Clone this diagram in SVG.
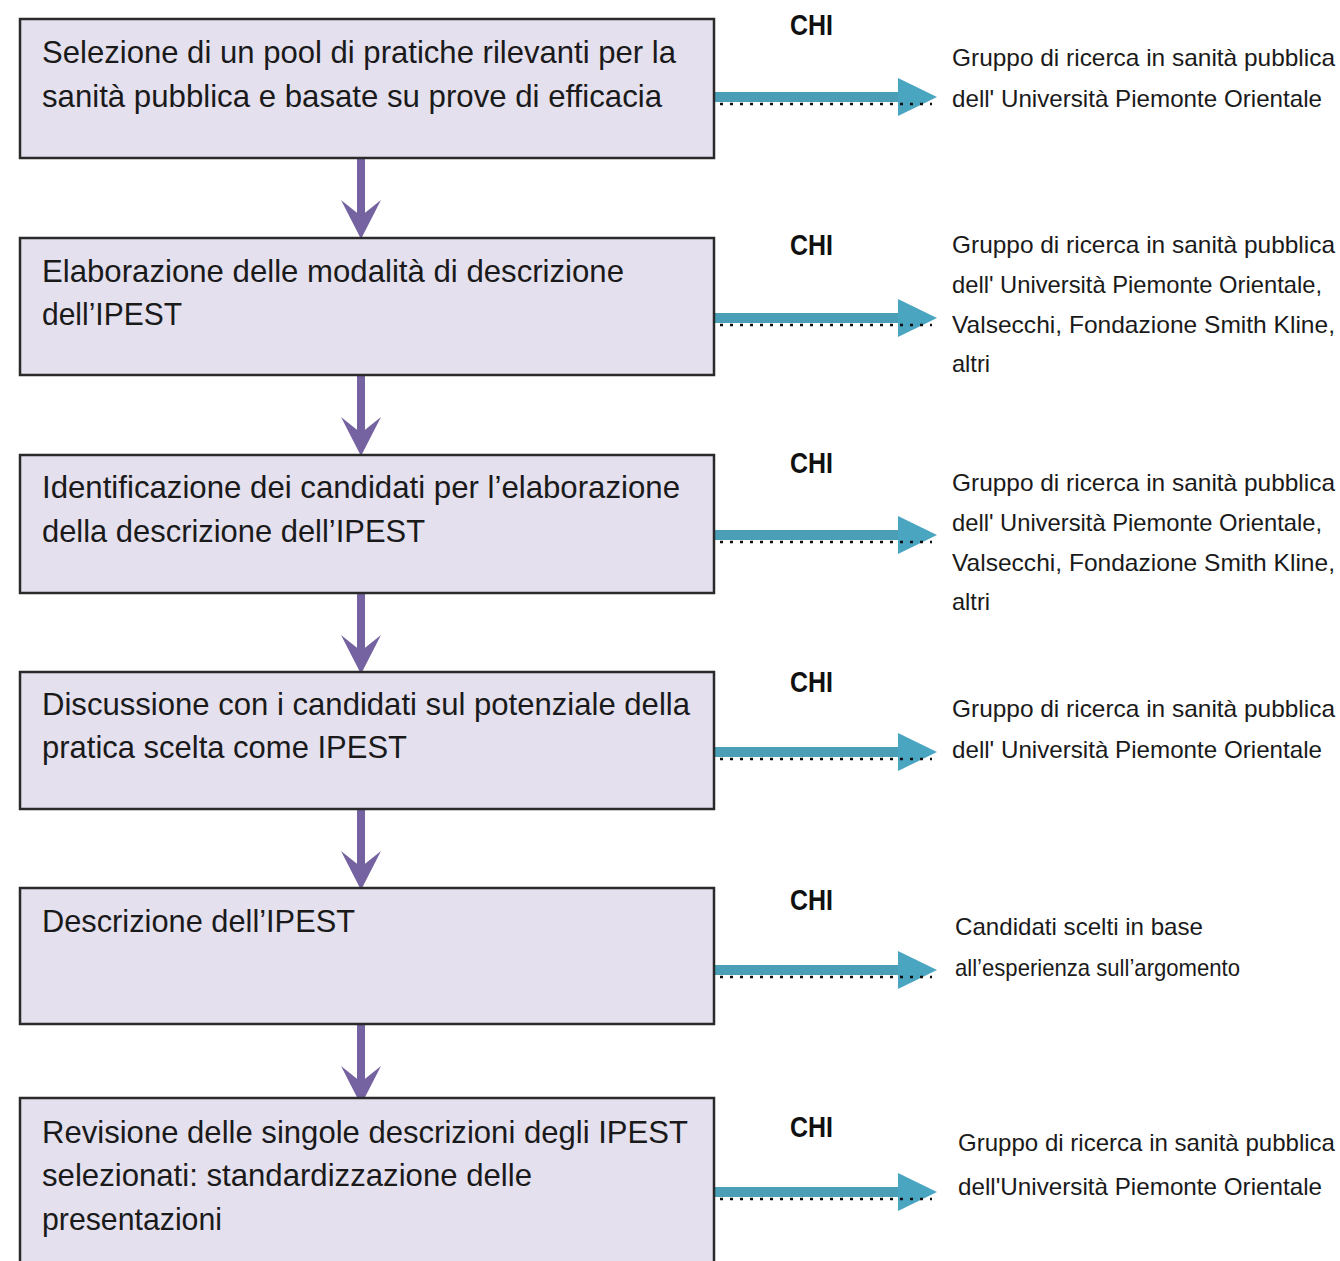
<svg xmlns="http://www.w3.org/2000/svg" width="1340" height="1261" viewBox="0 0 1340 1261">
<style>
.box{fill:#e4e0ee;stroke:#2a2a2a;stroke-width:2.5}
.bt{font-family:"Liberation Sans",Arial,sans-serif;font-size:32px;fill:#1a1a1a}
.chi{font-family:"Liberation Sans",Arial,sans-serif;font-size:29px;font-weight:bold;fill:#111}
.rt{font-family:"Liberation Sans",Arial,sans-serif;font-size:24px;fill:#1a1a1a}
.pshaft{stroke:#7562a1;stroke-width:8;fill:none}
.phead{fill:#7562a1}
.tshaft{fill:#4a9eb6}
.thead{fill:#4aa5c0}
.dots{stroke:#111;stroke-width:2.5;stroke-dasharray:3 7;fill:none}
</style>
<defs>
<g id="tarrow">
<rect class="tshaft" x="714" y="-5" width="188" height="10"/>
<polygon class="thead" points="898,-19 937,0 898,19"/>
<line class="dots" x1="720" y1="7" x2="932" y2="7"/>
</g>
<g id="parrow">
<line class="pshaft" x1="361" y1="0" x2="361" y2="60"/>
<polygon class="phead" points="341,41 361,57 381,41 361,80"/>
</g>
</defs>
<rect width="1340" height="1261" fill="#ffffff"/>

<g id="connectors">
<use href="#parrow" transform="translate(0,159)"/>
<use href="#parrow" transform="translate(0,376)"/>
<use href="#parrow" transform="translate(0,594)"/>
<use href="#parrow" transform="translate(0,810)"/>
<use href="#parrow" transform="translate(0,1025)"/>
<use href="#tarrow" transform="translate(0,97)"/>
<use href="#tarrow" transform="translate(0,318)"/>
<use href="#tarrow" transform="translate(0,535)"/>
<use href="#tarrow" transform="translate(0,752)"/>
<use href="#tarrow" transform="translate(0,970)"/>
<use href="#tarrow" transform="translate(0,1192)"/>
</g>

<g id="node1">
<rect class="box" x="20" y="19" width="694" height="139"/>
<text class="bt" x="42" y="63" textLength="634" lengthAdjust="spacingAndGlyphs">Selezione di un pool di pratiche rilevanti per la</text>
<text class="bt" x="42" y="107" textLength="620" lengthAdjust="spacingAndGlyphs">sanità pubblica e basate su prove di efficacia</text>
</g>
<g id="node2">
<rect class="box" x="20" y="238" width="694" height="137"/>
<text class="bt" x="42" y="282" textLength="582" lengthAdjust="spacingAndGlyphs">Elaborazione delle modalità di descrizione</text>
<text class="bt" x="42" y="325" textLength="140" lengthAdjust="spacingAndGlyphs">dell’IPEST</text>
</g>
<g id="node3">
<rect class="box" x="20" y="455" width="694" height="138"/>
<text class="bt" x="42" y="498" textLength="638" lengthAdjust="spacingAndGlyphs">Identificazione dei candidati per l’elaborazione</text>
<text class="bt" x="42" y="542" textLength="383" lengthAdjust="spacingAndGlyphs">della descrizione dell’IPEST</text>
</g>
<g id="node4">
<rect class="box" x="20" y="672" width="694" height="137"/>
<text class="bt" x="42" y="715" textLength="648" lengthAdjust="spacingAndGlyphs">Discussione con i candidati sul potenziale della</text>
<text class="bt" x="42" y="758" textLength="365" lengthAdjust="spacingAndGlyphs">pratica scelta come IPEST</text>
</g>
<g id="node5">
<rect class="box" x="20" y="888" width="694" height="136"/>
<text class="bt" x="42" y="932" textLength="313" lengthAdjust="spacingAndGlyphs">Descrizione dell’IPEST</text>
</g>
<g id="node6">
<rect class="box" x="20" y="1098" width="694" height="180"/>
<text class="bt" x="42" y="1143" textLength="646" lengthAdjust="spacingAndGlyphs">Revisione delle singole descrizioni degli IPEST</text>
<text class="bt" x="42" y="1186" textLength="490" lengthAdjust="spacingAndGlyphs">selezionati: standardizzazione delle</text>
<text class="bt" x="42" y="1230" textLength="180" lengthAdjust="spacingAndGlyphs">presentazioni</text>
</g>

<g id="who1">
<text class="chi" x="790" y="35" textLength="43" lengthAdjust="spacingAndGlyphs">CHI</text>
<text class="rt" x="952" y="66" textLength="383" lengthAdjust="spacingAndGlyphs">Gruppo di ricerca in sanità pubblica</text>
<text class="rt" x="952" y="107" textLength="370" lengthAdjust="spacingAndGlyphs">dell' Università Piemonte Orientale</text>
</g>
<g id="who2">
<text class="chi" x="790" y="255" textLength="43" lengthAdjust="spacingAndGlyphs">CHI</text>
<text class="rt" x="952" y="253" textLength="383" lengthAdjust="spacingAndGlyphs">Gruppo di ricerca in sanità pubblica</text>
<text class="rt" x="952" y="293" textLength="370" lengthAdjust="spacingAndGlyphs">dell' Università Piemonte Orientale,</text>
<text class="rt" x="952" y="333" textLength="383" lengthAdjust="spacingAndGlyphs">Valsecchi, Fondazione Smith Kline,</text>
<text class="rt" x="952" y="372" textLength="38" lengthAdjust="spacingAndGlyphs">altri</text>
</g>
<g id="who3">
<text class="chi" x="790" y="473" textLength="43" lengthAdjust="spacingAndGlyphs">CHI</text>
<text class="rt" x="952" y="491" textLength="383" lengthAdjust="spacingAndGlyphs">Gruppo di ricerca in sanità pubblica</text>
<text class="rt" x="952" y="531" textLength="370" lengthAdjust="spacingAndGlyphs">dell' Università Piemonte Orientale,</text>
<text class="rt" x="952" y="571" textLength="383" lengthAdjust="spacingAndGlyphs">Valsecchi, Fondazione Smith Kline,</text>
<text class="rt" x="952" y="610" textLength="38" lengthAdjust="spacingAndGlyphs">altri</text>
</g>
<g id="who4">
<text class="chi" x="790" y="692" textLength="43" lengthAdjust="spacingAndGlyphs">CHI</text>
<text class="rt" x="952" y="717" textLength="383" lengthAdjust="spacingAndGlyphs">Gruppo di ricerca in sanità pubblica</text>
<text class="rt" x="952" y="758" textLength="370" lengthAdjust="spacingAndGlyphs">dell' Università Piemonte Orientale</text>
</g>
<g id="who5">
<text class="chi" x="790" y="910" textLength="43" lengthAdjust="spacingAndGlyphs">CHI</text>
<text class="rt" x="955" y="935" textLength="248" lengthAdjust="spacingAndGlyphs">Candidati scelti in base</text>
<text class="rt" x="955" y="976" textLength="285" lengthAdjust="spacingAndGlyphs">all’esperienza sull’argomento</text>
</g>
<g id="who6">
<text class="chi" x="790" y="1137" textLength="43" lengthAdjust="spacingAndGlyphs">CHI</text>
<text class="rt" x="958" y="1151" textLength="377" lengthAdjust="spacingAndGlyphs">Gruppo di ricerca in sanità pubblica</text>
<text class="rt" x="958" y="1195" textLength="364" lengthAdjust="spacingAndGlyphs">dell'Università Piemonte Orientale</text>
</g>
</svg>
